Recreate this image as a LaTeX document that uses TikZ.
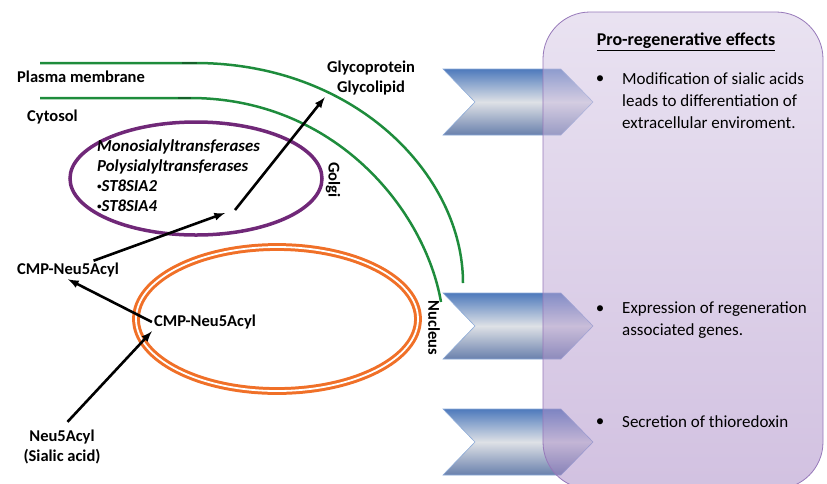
\documentclass[tikz,border=0pt]{standalone}
\usepackage{fontspec}
\setmainfont{Carlito}
\usetikzlibrary{positioning,arrows}

\definecolor{membrane}{RGB}{30,140,60}
\definecolor{golgi}{RGB}{112,40,120}
\definecolor{nucleus}{RGB}{240,112,40}
\definecolor{chevtop}{RGB}{78,122,188}
\definecolor{chevmid}{RGB}{222,225,230}
\definecolor{chevbot}{RGB}{105,128,172}
\definecolor{chevedge}{RGB}{140,170,215}
\definecolor{boxtop}{RGB}{212,198,228}
\definecolor{boxbot}{RGB}{165,132,195}
\definecolor{boxedge}{RGB}{150,120,185}

\newcommand{\smallbullet}{\raisebox{0.15em}{\fontsize{9}{9}\selectfont\textbullet}}

\begin{document}
\begin{tikzpicture}[x=1pt,y=-1pt,>=latex,
  label/.style={font=\bfseries\fontsize{16.5}{20}\selectfont,inner sep=2pt},
  enzyme/.style={font=\bfseries\itshape\fontsize{16.8}{20}\selectfont,align=left,inner sep=0pt},
  effect/.style={font=\fontsize{17}{22}\selectfont,align=left,inner sep=0pt},
  flow/.style={->,line width=2.6pt},
  chevron/.style={draw=chevedge,line width=0.6pt,top color=chevtop,bottom color=chevbot,middle color=chevmid}]
\useasboundingbox (0,0) rectangle (827,483);
\clip (0,0) rectangle (827,483);

% membranes
\draw[membrane,line width=2.5pt] (40,63) -- (195,63) .. controls (355,63) and (463,175) .. (463,283);
\draw[membrane,line width=2.5pt] (40,98) -- (190,98) .. controls (335,98) and (425,210) .. (441,302);
\draw[membrane!70!black,line width=2.5pt] (182,63) -- (197,63) (178,98) -- (191,98);
\draw[golgi,line width=3.5pt] (196,178.5) ellipse (126 and 56.5);
\draw[nucleus,line width=3pt,double=white,double distance=1.8pt] (277,319) ellipse (141 and 72);

% labels
\node[label,anchor=west] (pm) at (15,77) {Plasma membrane};
\node[label,anchor=west] (cyt) at (25,117) {Cytosol};
\node[label,rotate=-90] (gol) at (333,180) {Golgi};
\node[label,rotate=-90] (nuc) at (434,328) {Nucleus};
\node[enzyme,anchor=north west] (enz) at (97,140) {Monosialyltransferases\\Polysialyltransferases\\\smallbullet ST8SIA2\\\smallbullet ST8SIA4};
\node[label,align=center] (glyco) at (371,78) {Glycoprotein\\Glycolipid};
\node[label] (cmpout) at (68,270) {CMP-Neu5Acyl};
\node[label] (cmpin) at (205,322) {CMP-Neu5Acyl};
\node[label,align=center] (neu) at (62,447) {Neu5Acyl\\(Sialic acid)};
\coordinate (golgiin) at (225,213);
\coordinate (golgiout) at (235,210);

% transport
\draw[flow,shorten <=8pt] (neu.north) -- (cmpin.south west);
\draw[flow] (cmpin.west) -- (cmpout.south);
\draw[flow] (cmpout) -- (golgiin);
\draw[flow] (golgiout) -- (glyco.south west);

% effects
\foreach \y in {102,326,442}
  \shade[chevron] (443,\y-33) -- (561,\y-33) -- (593,\y) -- (561,\y+33) -- (443,\y+33) -- (475,\y) -- cycle;
\path[draw=boxedge,line width=0.8pt,top color=boxtop,bottom color=boxbot,fill opacity=0.5,rounded corners=47pt] (543,12) rectangle (823,489);

\node[font=\bfseries\fontsize{18}{20}\selectfont] (title) at (686,42) {\underline{Pro-regenerative effects}};
\node[effect] (b1) at (600,80) {\textbullet};
\node[effect,anchor=north west] (e1) at (622,72) {Modification of sialic acids\\leads to differentiation of\\extracellular enviroment.};
\node[effect] (b2) at (600,310) {\textbullet};
\node[effect,anchor=north west] (e2) at (622,302) {Expression of regeneration\\associated genes.};
\node[effect] (b3) at (600,423) {\textbullet};
\node[effect,anchor=north west] (e3) at (622,415) {Secretion of thioredoxin};
\end{tikzpicture}
\end{document}
